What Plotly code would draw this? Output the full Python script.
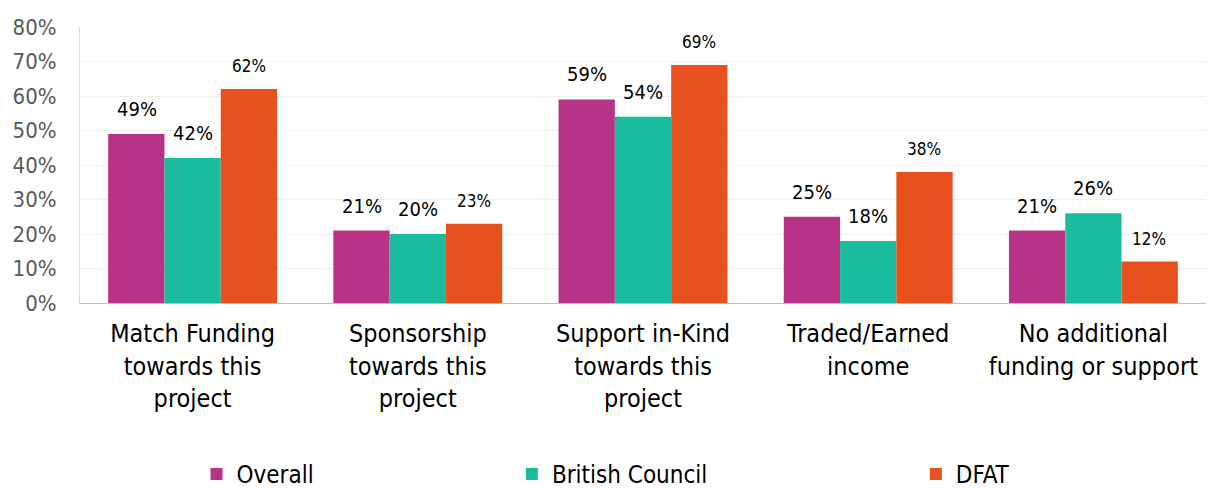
import plotly.graph_objects as go

categories = [
    "Match Funding<br>towards this<br>project",
    "Sponsorship<br>towards this<br>project",
    "Support in-Kind<br>towards this<br>project",
    "Traded/Earned<br>income",
    "No additional<br>funding or support",
]
series_names = ["Overall", "British Council", "DFAT"]
overall = [49, 21, 59, 25, 21]
british_council = [42, 20, 54, 18, 26]
dfat = [62, 23, 69, 38, 12]
y_ticks = [0, 10, 20, 30, 40, 50, 60, 70, 80]

colors = ["#B83388", "#1BBC9E", "#E8501E"]
label_sizes = [20, 20, 17]
legend_ids = ["legend", "legend2", "legend3"]
legend_x = [0.162, 0.422, 0.755]
FONT = "DejaVu Sans Condensed, Liberation Sans Narrow, Arial Narrow, sans-serif"

fig = go.Figure()
all_series = [overall, british_council, dfat]
for name, vals, col, lg in zip(series_names, all_series, colors, legend_ids):
    fig.add_trace(go.Bar(
        name=name, x=categories, y=vals, legend=lg, showlegend=True,
        marker=dict(color=col, line=dict(width=0)),
    ))

# value labels above each bar
bar_px = 56
for i, (vals, size) in enumerate(zip(all_series, label_sizes)):
    for cat, v in zip(categories, vals):
        fig.add_annotation(
            x=cat, y=v, text=f"{v}%", showarrow=False,
            xshift=(i - 1) * bar_px, yshift=11, yanchor="bottom",
            font=dict(family=FONT, size=size, color="#000000"),
        )

legend_style = dict(
    orientation="h", xref="container", yref="container",
    xanchor="left", y=0.03, yanchor="middle",
    font=dict(family=FONT, size=24, color="#000000"),
    itemwidth=30, bgcolor="rgba(0,0,0,0)",
)

fig.update_layout(
    width=1213, height=489,
    margin=dict(l=80, r=7, t=27, b=186),
    paper_bgcolor="white", plot_bgcolor="white",
    barmode="group", bargap=0.25, bargroupgap=0,
    showlegend=True,
    font=dict(family=FONT, color="#000000"),
    legend=dict(x=legend_x[0], **legend_style),
    legend2=dict(x=legend_x[1], **legend_style),
    legend3=dict(x=legend_x[2], **legend_style),
    xaxis=dict(
        showline=True, linecolor="#BFBFBF", linewidth=1,
        tickfont=dict(family=FONT, size=25, color="#000000"),
        ticks="", ticklabelstandoff=8,
    ),
    yaxis=dict(
        range=[0, 80], tickvals=y_ticks, ticktext=[f"{t}%" for t in y_ticks],
        tickfont=dict(family=FONT, size=22, color="#595959"),
        showgrid=True, gridcolor="#EDEDED", gridwidth=1,
        showline=True, linecolor="#D9D9D9", linewidth=1,
        zeroline=False, ticks="", ticklabelstandoff=18,
    ),
)

fig.write_html("out.html")
